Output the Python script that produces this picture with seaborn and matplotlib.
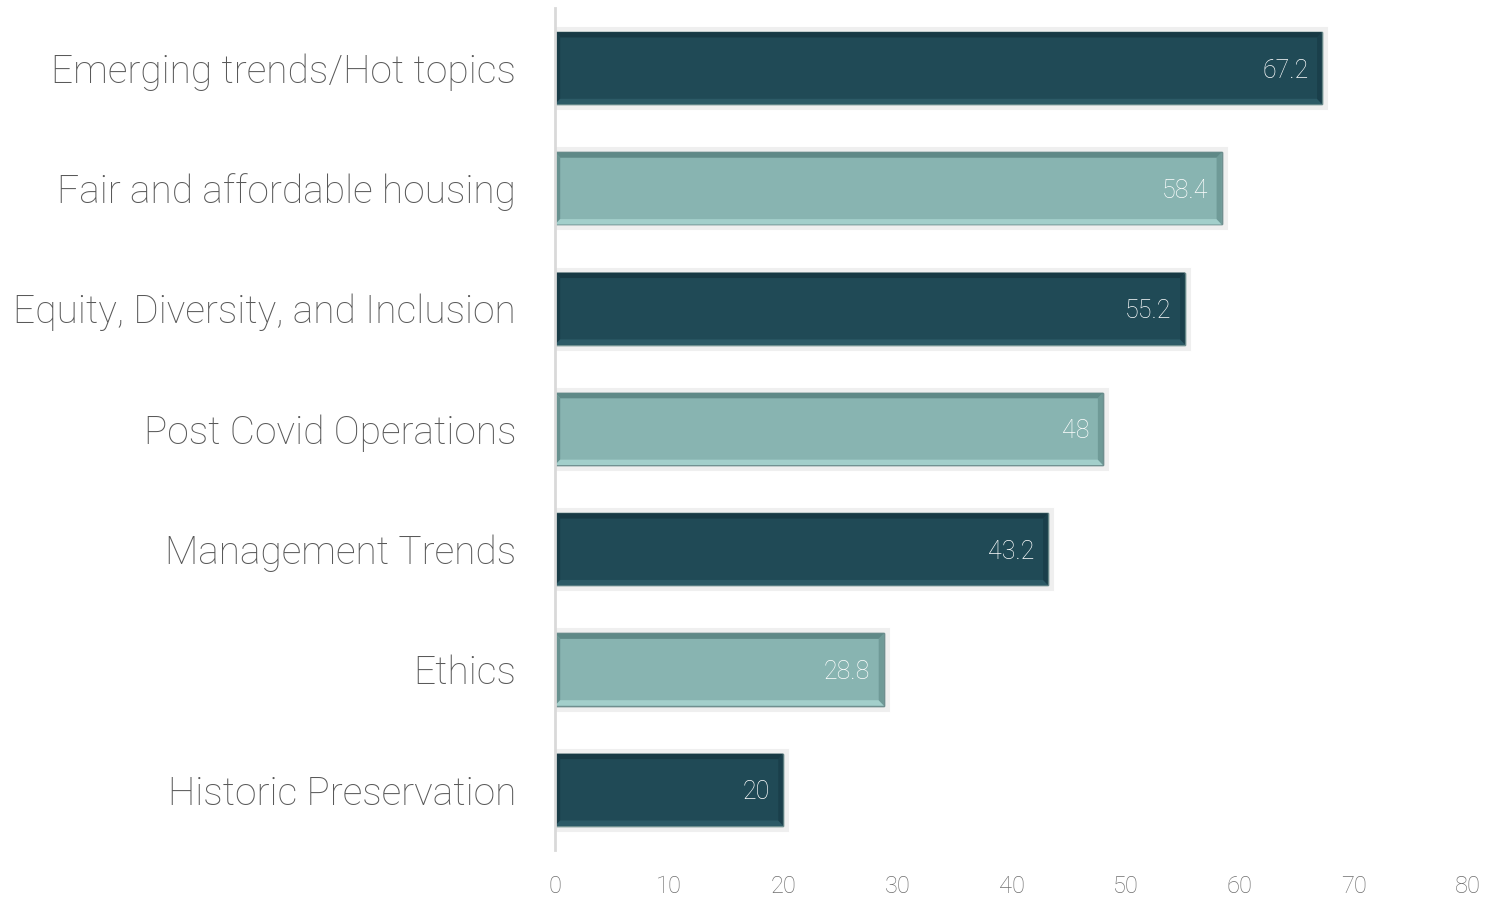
import matplotlib
matplotlib.use("Agg")
import matplotlib.pyplot as plt
import matplotlib.patheffects as pe
from matplotlib.patches import Polygon
import seaborn as sns
import pandas as pd

# data
topics = [
    "Emerging trends/Hot topics",
    "Fair and affordable housing",
    "Equity, Diversity, and Inclusion",
    "Post Covid Operations",
    "Management Trends",
    "Ethics",
    "Historic Preservation",
]
scores = [67.2, 58.4, 55.2, 48, 43.2, 28.8, 20]
value_labels = ["67.2", "58.4", "55.2", "48", "43.2", "28.8", "20"]
xticks = [0, 10, 20, 30, 40, 50, 60, 70, 80]

DARK = "#204a56"
LIGHT = "#88b4b1"
bar_colors = [DARK if i % 2 == 0 else LIGHT for i in range(len(topics))]
bevel_top = {DARK: "#173944", LIGHT: "#5f8987"}
bevel_bot = {DARK: "#2c5a66", LIGHT: "#a3cfcb"}

df = pd.DataFrame({"topic": topics, "score": scores})

sns.set_style("white")
plt.rcParams["font.family"] = ["Roboto", "DejaVu Sans"]

fig = plt.figure(figsize=(15.01, 8.98), dpi=100)
ax = fig.add_axes([0.3698, 0.0535, 0.6084, 0.9376])

sns.barplot(data=df, x="score", y="topic", hue="topic", palette=bar_colors,
            legend=False, width=0.6, orient="h", ax=ax, saturation=1,
            edgecolor="#6f8f8f", linewidth=1)

for p, c in zip(ax.patches, bar_colors):
    p.set_path_effects([pe.withStroke(linewidth=8, foreground="#efefef"), pe.Normal()])
    x0, y0, w, h = p.get_x(), p.get_y(), p.get_width(), p.get_height()
    bx, by = 0.45, 0.045
    # simple bevel: darker top / left strip, lighter bottom strip
    ax.add_patch(Polygon([(x0, y0), (x0 + w, y0), (x0 + w - bx, y0 + by), (x0 + bx, y0 + by)],
                         closed=True, facecolor=bevel_top[c], edgecolor="none", zorder=3))
    ax.add_patch(Polygon([(x0, y0), (x0 + bx, y0 + by), (x0 + bx, y0 + h - by), (x0, y0 + h)],
                         closed=True, facecolor=bevel_top[c], edgecolor="none", zorder=3, alpha=0.8))
    ax.add_patch(Polygon([(x0, y0 + h), (x0 + bx, y0 + h - by), (x0 + w - bx, y0 + h - by), (x0 + w, y0 + h)],
                         closed=True, facecolor=bevel_bot[c], edgecolor="none", zorder=3))
    ax.add_patch(Polygon([(x0 + w, y0), (x0 + w, y0 + h), (x0 + w - bx, y0 + h - by), (x0 + w - bx, y0 + by)],
                         closed=True, facecolor=bevel_top[c], edgecolor="none", zorder=3, alpha=0.6))

for i, (v, lab) in enumerate(zip(scores, value_labels)):
    ax.text(v - 1.2, i, lab, ha="right", va="center_baseline", color="white",
            fontsize=18, fontweight="light", zorder=4)

ax.set_xlim(0, 80)
ax.set_ylim(6.5, -0.5)
ax.set_xticks(xticks)
ax.set_xlabel("")
ax.set_ylabel("")
ax.tick_params(axis="x", length=0, pad=18, labelsize=17, labelcolor="#6e6e6e")
ax.tick_params(axis="y", length=0, pad=28, labelsize=28, labelcolor="#595959")
for t in ax.get_xticklabels() + ax.get_yticklabels():
    t.set_fontweight("light")

for s in ["top", "right", "bottom"]:
    ax.spines[s].set_visible(False)
ax.spines["left"].set_color("#d9d9d9")
ax.spines["left"].set_linewidth(2)
ax.spines["left"].set_zorder(5)

fig.savefig("out.png", dpi=100)
